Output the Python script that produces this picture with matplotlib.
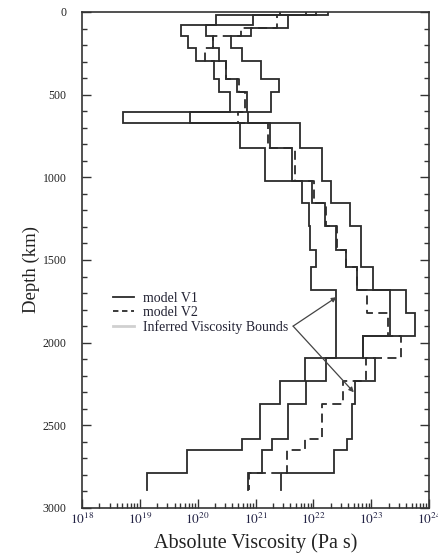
import numpy as np
import matplotlib
matplotlib.use("Agg")
import matplotlib.pyplot as plt
from matplotlib.ticker import LogLocator, FixedLocator, NullFormatter

plt.rcParams['font.family'] = ['Liberation Serif', 'DejaVu Serif']
plt.rcParams['mathtext.fontset'] = 'stix'

# layer boundaries (km)
depth_bounds = [0, 20, 77, 97, 143, 218, 295, 404, 485, 605, 672, 823, 1025, 1156,
                1295, 1438, 1545, 1680, 1820, 1957, 2094, 2231, 2373, 2583, 2650,
                2790, 2891]

# log10 viscosity (Pa s) per layer
lower_bound = [21.88, 20.325, 19.72, 19.72, 19.83, 19.97, 20.28, 20.37, 20.555, 18.711,
               20.728, 21.172, 21.805, 21.92, 21.95, 22.05, 21.955, 22.40, 22.40, 22.40,
               21.86, 21.42, 21.08, 20.76, 19.82, 19.13]
model_v1 = [22.054, 20.958, 20.152, 20.152, 20.267, 20.37, 20.498, 20.685, 20.85, 19.863,
            21.258, 21.638, 21.978, 22.205, 22.40, 22.572, 22.76, 23.32, 23.32, 22.86,
            22.22, 21.87, 21.563, 21.293, 21.12, 20.871]
model_v2 = [21.419, 21.373, 21.373, 20.757, 20.267, 20.135, 20.498, 20.716, 20.826, 20.70,
            21.224, 21.678, 22.015, 22.223, 22.41, 22.572, 22.76, 22.923, 23.29, 23.523,
            22.91, 22.513, 22.15, 21.85, 21.552, 20.888]
upper_bound = [22.254, 21.563, 21.563, 20.93, 20.57, 20.77, 21.09, 21.40, 21.263, 20.871,
               21.765, 22.157, 22.313, 22.638, 22.82, 22.82, 23.027, 23.61, 23.753, 22.86,
               23.067, 22.716, 22.66, 22.59, 22.358, 21.449]

xtick_exps = [18, 19, 20, 21, 22, 23, 24]
ytick_vals = [0, 500, 1000, 1500, 2000, 2500, 3000]


def step_xy(bounds, logv):
    xs, ys = [], []
    for i, v in enumerate(logv):
        xs += [10 ** v, 10 ** v]
        ys += [bounds[i], bounds[i + 1]]
    return np.array(xs), np.array(ys)


fig = plt.figure(figsize=(4.39, 5.55), dpi=100)
ax = fig.add_axes([82 / 439, 1 - 508 / 555, 347 / 439, 496 / 555])

lc = '#2b2b2b'
lw = 1.3
x, y = step_xy(depth_bounds, lower_bound)
ax.plot(x, y, color=lc, lw=lw, solid_joinstyle='miter')
x, y = step_xy(depth_bounds, upper_bound)
ax.plot(x, y, color=lc, lw=lw, solid_joinstyle='miter')
x, y = step_xy(depth_bounds, model_v2)
ax.plot(x, y, color=lc, lw=lw, linestyle=(0, (5, 3)))
x, y = step_xy(depth_bounds, model_v1)
ax.plot(x, y, color=lc, lw=lw, solid_joinstyle='miter')

ax.set_xscale('log')
ax.set_xlim(1e18, 1e24)
ax.set_ylim(3000, 0)

ax.xaxis.set_major_locator(FixedLocator([10.0 ** e for e in xtick_exps]))
ax.set_xticklabels([r'$10^{%d}$' % e for e in xtick_exps], fontsize=9.5)
ax.xaxis.set_minor_locator(LogLocator(base=10, subs=np.arange(2, 10), numticks=20))
ax.xaxis.set_minor_formatter(NullFormatter())
ax.set_yticks(ytick_vals)
ax.set_yticklabels([str(v) for v in ytick_vals], fontsize=8.5)
ax.set_yticks(np.arange(0, 3001, 100), minor=True)

ax.tick_params(axis='y', which='major', direction='in', length=6.5, width=1.0,
               left=True, right=True, pad=11, colors='#333333', labelcolor='#222222')
ax.tick_params(axis='y', which='minor', direction='in', length=3.6, width=1.0,
               left=True, right=True, colors='#333333')
ax.tick_params(axis='x', which='major', direction='in', length=6.5, width=1.0,
               top=False, pad=3, colors='#333333', labelcolor='#222244')
ax.tick_params(axis='x', which='minor', direction='in', length=3.3, width=1.0,
               top=False, colors='#333333')
for s in ax.spines.values():
    s.set_linewidth(1.2)
    s.set_color('#333333')

ax.set_xlabel('Absolute Viscosity (Pa s)', fontsize=14.5, labelpad=4, color='#222222')
ax.set_ylabel('Depth (km)', fontsize=13.5, color='#222222')
ax.yaxis.set_label_coords(-0.12, 0.48)

h1, = ax.plot([], [], color=lc, lw=lw)
h2, = ax.plot([], [], color=lc, lw=lw, linestyle=(0, (3, 2)))
h3, = ax.plot([], [], color='#d0d0d0', lw=2.0)
leg = ax.legend([h1, h2, h3], ['model V1', 'model V2', 'Inferred Viscosity Bounds'],
                loc='upper left', bbox_to_anchor=(0.089, 0.436), frameon=False,
                fontsize=10, handlelength=1.5, handletextpad=0.7, labelspacing=0.08,
                borderpad=0, borderaxespad=0)
for t in leg.get_texts():
    t.set_color('#222233')

arrow_kw = dict(arrowstyle='-|>', color='#444444', lw=0.9, mutation_scale=7,
                shrinkA=0, shrinkB=0)
ax.annotate('', xy=(10 ** 22.40, 1725), xytext=(10 ** 21.65, 1900), arrowprops=arrow_kw)
ax.annotate('', xy=(10 ** 22.70, 2300), xytext=(10 ** 21.65, 1900), arrowprops=arrow_kw)

fig.savefig('out.png', dpi=100)
